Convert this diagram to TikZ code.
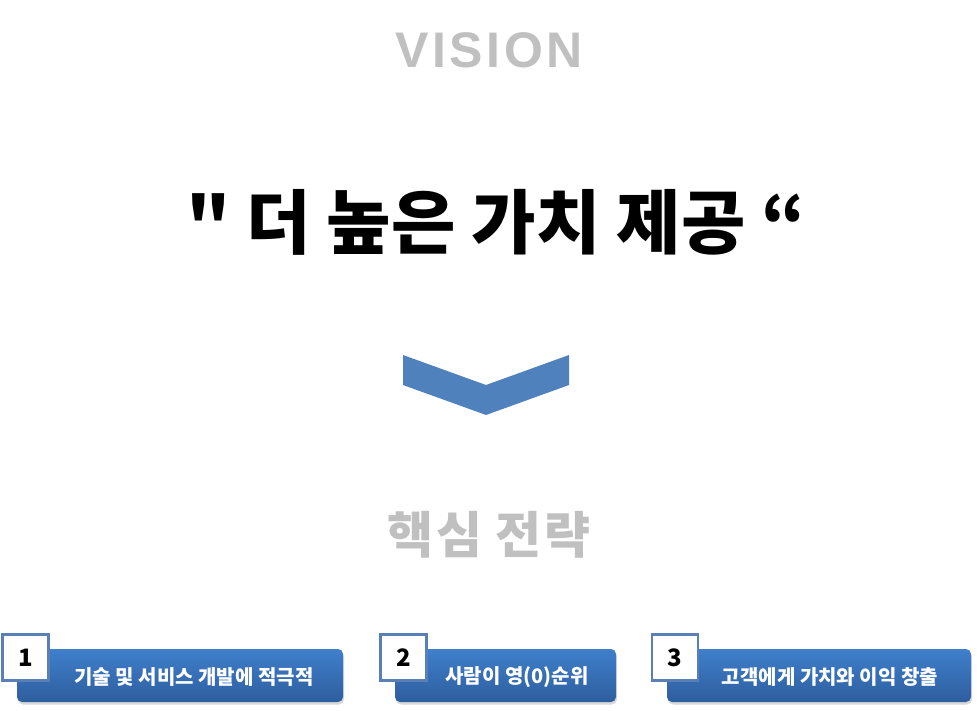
\documentclass[tikz,border=0pt]{standalone}
\usepackage{fontspec}
\setmainfont{Noto Sans CJK KR}
\newfontfamily\krplain{Noto Sans CJK KR}
\newfontfamily\krwide{Noto Sans CJK KR}[LetterSpace=5]
\newfontfamily\visionfont{Liberation Sans}[LetterSpace=7]
\usetikzlibrary{shadows}
\definecolor{chev}{HTML}{4F81BD}
\definecolor{btop}{HTML}{3F7FCC}
\definecolor{bbot}{HTML}{2E5E9E}
\definecolor{nbord}{HTML}{5A7FB6}
\definecolor{grayt}{HTML}{C0C0C0}
\tikzset{
 bar/.style={rounded corners=5pt, top color=btop, bottom color=bbot, draw=none, inner sep=0pt,
   drop shadow={shadow xshift=1pt, shadow yshift=-2.5pt, opacity=0.3}},
 numbox/.style={draw=nbord, line width=2.8pt, fill=white, minimum width=46pt, minimum height=46pt,
   inner sep=0pt, font=\bfseries\fontsize{24}{24}\selectfont},
 bartext/.style={text=white, inner sep=0pt, font=\bfseries\fontsize{20}{20}\selectfont},
 graytitle/.style={text=grayt, inner sep=0pt},
}
\begin{document}
\begin{tikzpicture}[x=1pt,y=-1pt]
\useasboundingbox (0,0) rectangle (977,711);
\node[graytitle, font=\visionfont\bfseries\fontsize{50}{50}\selectfont] (vision) at (489,50) {VISION};
\node[inner sep=0pt, font=\krplain\bfseries\fontsize{70}{70}\selectfont] (title) at (496,222) {" 더 높은 가치 제공 “};
\path[fill=chev] (403,355) -- (486,385) -- (569,355) -- (569,385) -- (486,415) -- (403,385) -- cycle;
\node[graytitle, font=\krwide\bfseries\fontsize{50}{50}\selectfont] (strategy) at (489,535) {핵심 전략};

\node[bar, minimum width=326pt, minimum height=53pt] (bar1) at (180,675.5) {};
\node[bar, minimum width=221pt, minimum height=53pt] (bar2) at (505.5,675.5) {};
\node[bar, minimum width=304pt, minimum height=53pt] (bar3) at (819,675.5) {};

\node[bartext] (t1) at (194,677) {기술 및 서비스 개발에 적극적};
\node[bartext] (t2) at (517,677) {사람이 영(0)순위};
\node[bartext] (t3) at (830,677) {고객에게 가치와 이익 창출};

\node[numbox] (n1) at (25.5,657.5) {1};
\node[numbox] (n2) at (403.5,657.5) {2};
\node[numbox] (n3) at (675,657.5) {3};
\end{tikzpicture}
\end{document}
